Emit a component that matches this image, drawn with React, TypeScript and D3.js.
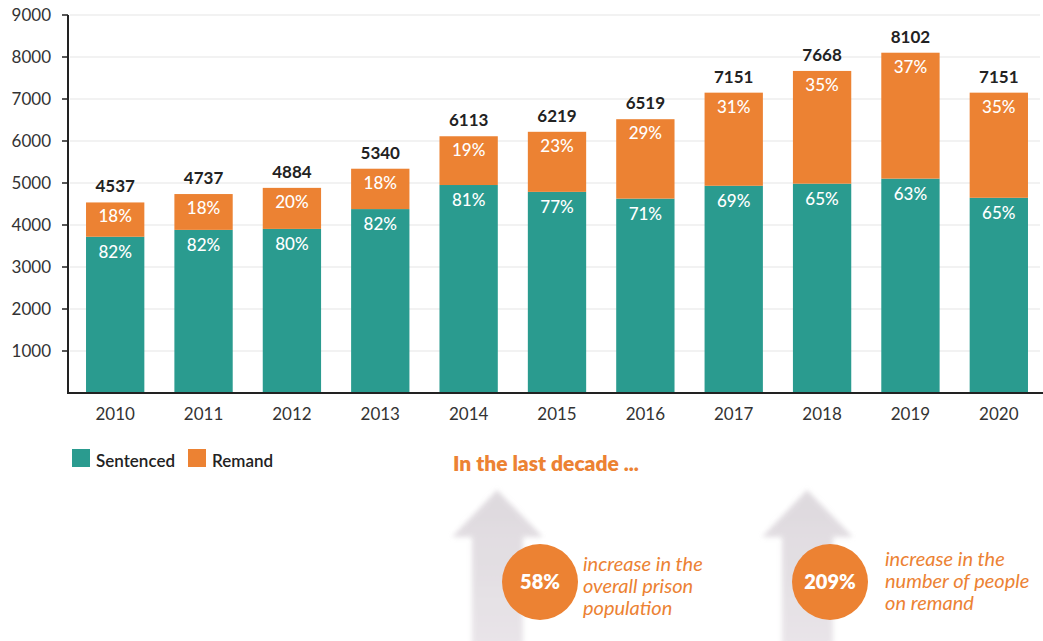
import React from "react";
import * as d3 from "d3";

const years = ["2010", "2011", "2012", "2013", "2014", "2015", "2016", "2017", "2018", "2019", "2020"];
const totals = [4537, 4737, 4884, 5340, 6113, 6219, 6519, 7151, 7668, 8102, 7151];
const sentenced = [3720, 3884, 3907, 4379, 4952, 4789, 4628, 4934, 4984, 5104, 4648];
const remand = [817, 853, 977, 961, 1161, 1430, 1891, 2217, 2684, 2998, 2503];
const sentencedPct = ["82%", "82%", "80%", "82%", "81%", "77%", "71%", "69%", "65%", "63%", "65%"];
const remandPct = ["18%", "18%", "20%", "18%", "19%", "23%", "29%", "31%", "35%", "37%", "35%"];
const yTicks = [1000, 2000, 3000, 4000, 5000, 6000, 7000, 8000, 9000];
const seriesNames = ["Sentenced", "Remand"];
const callouts = [
  { value: "58%", lines: ["increase in the", "overall prison", "population"] },
  { value: "209%", lines: ["increase in the", "number of people", "on remand"] },
];

const TEAL = "#2a9b8f";
const ORANGE = "#ec8233";
const FONT = "Lato, 'Open Sans', sans-serif";

export default function App() {
  const W = 1043, H = 641;
  const x = d3.scaleBand<string>().domain(years).range([71, 1043]).paddingInner(0.34).paddingOuter(0.17);
  const y = d3.scaleLinear().domain([0, 9000]).range([393, 15]);
  const bw = x.bandwidth();

  const calloutPos = [
    { arrowX: 497, cx: 540, tx: 583, ty: 571 },
    { arrowX: 807, cx: 830, tx: 885, ty: 566 },
  ];

  const arrowPath = (tipX: number) => {
    const tipY = 490;
    return `M${tipX},${tipY} L${tipX + 46},${tipY + 47} L${tipX + 26},${tipY + 47} L${tipX + 26},${H + 5} L${tipX - 25},${H + 5} L${tipX - 25},${tipY + 47} L${tipX - 45},${tipY + 47} Z`;
  };

  return (
    <svg width={W} height={H} style={{ position: "absolute", left: 0, top: 0, background: "#fff" }} fontFamily={FONT}>
      <defs>
        <filter id="blur" x="-20%" y="-20%" width="140%" height="140%">
          <feGaussianBlur stdDeviation="2.5" />
        </filter>
        <linearGradient id="fade" x1="0" y1="0" x2="0" y2="1">
          <stop offset="0" stopColor="#d6d0d6" />
          <stop offset="1" stopColor="#e4dfe4" />
        </linearGradient>
      </defs>
      {/* gridlines */}
      {yTicks.map((t) => (
        <line key={t} x1={70} x2={1040} y1={y(t)} y2={y(t)} stroke="#e6e6e6" strokeWidth={1.2} />
      ))}
      {/* bars */}
      {years.map((yr, i) => {
        const bx = x(yr)!;
        const sTop = y(sentenced[i]);
        const rTop = y(sentenced[i] + remand[i]);
        return (
          <g key={yr}>
            <rect x={bx} y={sTop} width={bw} height={y(0) - sTop} fill={TEAL} />
            <rect x={bx} y={rTop} width={bw} height={sTop - rTop} fill={ORANGE} />
            <text x={bx + bw / 2} y={rTop + 20} textAnchor="middle" fill="#fff" fontSize={17} fontWeight={500}>
              {remandPct[i]}
            </text>
            <text x={bx + bw / 2} y={sTop + 21} textAnchor="middle" fill="#fff" fontSize={17} fontWeight={500}>
              {sentencedPct[i]}
            </text>
            <text x={bx + bw / 2} y={y(totals[i]) - 10} textAnchor="middle" fill="#222" fontSize={17} fontWeight={700}>
              {totals[i]}
            </text>
            <text x={bx + bw / 2} y={420} textAnchor="middle" fill="#333" fontSize={17}>
              {yr}
            </text>
          </g>
        );
      })}
      {/* axes */}
      <line x1={68} x2={68} y1={y(9000)} y2={y(0) + 1} stroke="#222" strokeWidth={2} />
      <line x1={67} x2={1043} y1={y(0)} y2={y(0)} stroke="#222" strokeWidth={2} />
      {yTicks.map((t) => (
        <g key={t}>
          <line x1={62} x2={68} y1={y(t)} y2={y(t)} stroke="#222" strokeWidth={1.5} />
          <text x={51} y={y(t) + 6} textAnchor="end" fill="#333" fontSize={17}>
            {t}
          </text>
        </g>
      ))}
      {/* legend */}
      {seriesNames.map((n, i) => {
        const lx = i === 0 ? 72 : 188;
        return (
          <g key={n}>
            <rect x={lx} y={449} width={18} height={18} fill={i === 0 ? TEAL : ORANGE} />
            <text x={lx + 24} y={467} fill="#222" fontSize={17} fontWeight={600}>
              {n}
            </text>
          </g>
        );
      })}
      {/* callouts */}
      <text x={453} y={471} fill={ORANGE} fontSize={21} fontWeight={800}>
        In the last decade ...
      </text>
      {callouts.map((c, i) => {
        const p = calloutPos[i];
        return (
          <g key={c.value}>
            <path d={arrowPath(p.arrowX)} fill="url(#fade)" opacity={0.8} filter="url(#blur)" />
            <circle cx={p.cx} cy={582} r={38} fill={ORANGE} />
            <text x={p.cx} y={589} textAnchor="middle" fill="#fff" fontSize={20} fontWeight={800}>
              {c.value}
            </text>
            {c.lines.map((l, j) => (
              <text key={j} x={p.tx} y={p.ty + j * 22} fill={ORANGE} fontSize={20} fontStyle="italic">
                {l}
              </text>
            ))}
          </g>
        );
      })}
    </svg>
  );
}
